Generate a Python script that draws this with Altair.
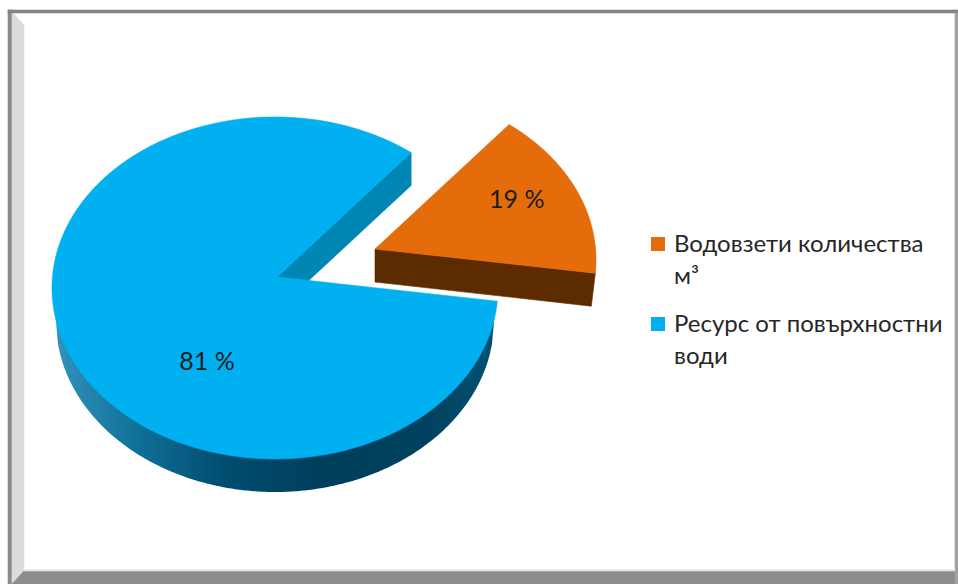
import numpy as np
import pandas as pd
import altair as alt

# Chart values
names = ["Водовзети количества\nм³", "Ресурс от повърхностни\nводи"]
shares = [19, 81]
colors = ["#e46c0a", "#00b0f0"]
labels = ["19 %", "81 %"]

W, H = 958, 584
FONT = "Lato"

# Pie geometry, in pixels
CX, CY = 275, 288          # centre of the top ellipse
RX, RY = 223, 171          # radii of the top ellipse
BRX, BRY = 219, 171        # radii of the lower rim
DEPTH = 33                 # thickness of the disc
APEX = (277, 277)          # where the cut edges meet on the top face
SQUASH = 0.69              # foreshortening of angles on the tilted disc
START = 62.0               # angle where the first slice begins, degrees
EXPLODE = (98, -28)        # pull-out of the first slice
LABEL_POS = [(0.645, -0.35), (-0.305, 0.433)]  # label centres in disc radii


def tilt(theta):
    th = np.radians(theta)
    return np.arctan2(SQUASH * np.sin(th), np.cos(th))


def rim(theta, rx=RX, ry=RY, dy=0):
    t = tilt(theta)
    return CX + rx * np.cos(t), CY + dy - ry * np.sin(t)


x_scale = alt.Scale(domain=[0, W], range=[0, W], nice=False, zero=False)
y_scale = alt.Scale(domain=[0, H], range=[0, H], nice=False, zero=False)
X = alt.X("x:Q", scale=x_scale, axis=None)
Y = alt.Y("y:Q", scale=y_scale, axis=None)


def polygon(xs, ys, fill):
    xs, ys = list(xs), list(ys)
    df = pd.DataFrame({"x": xs + xs[:1], "y": ys + ys[:1]})
    df["i"] = range(len(df))
    return alt.Chart(df).mark_line(fill=fill, stroke=fill, strokeWidth=0.6, interpolate="linear").encode(
        x=X, y=Y, order=alt.Order("i:Q")
    )


# Frame of the picture
frame = [
    polygon([8, 12, 12, 8], [10, 10, 584, 584], "#8a8a8a"),
    polygon([12, 24, 24, 12], [12, 25, 571, 584], "#dcdcdc"),
    polygon([8, 958, 958, 8], [10, 10, 13, 13], "#858585"),
    polygon([12, 24, 955, 958, 958], [584, 571, 571, 571, 584], "#8c8c8c"),
    polygon([955, 958, 958, 955], [13, 13, 584, 584], "#a2a2a2"),
    polygon([24, 955, 955, 24], [569.5, 569.5, 571, 571], "#e6e6e6"),
]

# Slice angle spans, clockwise from START
spans = np.array(shares) * 3.6
a0 = START
a1 = a0 - spans[0]
a2 = a1 - spans[1]

# Large slice: outer wall across the front of the disc
wall_x = np.linspace(CX - BRX, CX + BRX, 221)
top_y = CY + RY * np.sqrt(np.clip(1 - ((wall_x - CX) / RX) ** 2, 0, 1))
low_y = CY + DEPTH + BRY * np.sqrt(np.clip(1 - ((wall_x - CX) / BRX) ** 2, 0, 1))
wall_df = pd.DataFrame({"x": wall_x, "y": top_y - 1, "y2": np.maximum(top_y, low_y)})
wall_fill = alt.Gradient(
    gradient="linear", x1=0, x2=1, y1=0, y2=0,
    stops=[
        alt.GradientStop(color="#2f93bb", offset=0),
        alt.GradientStop(color="#0f6d95", offset=0.2),
        alt.GradientStop(color="#004d70", offset=0.38),
        alt.GradientStop(color="#003f5c", offset=0.6),
        alt.GradientStop(color="#00425f", offset=0.85),
        alt.GradientStop(color="#005273", offset=1),
    ],
)
blue_wall = alt.Chart(wall_df).mark_area(color=wall_fill, interpolate="linear").encode(
    x=X, y=Y, y2="y2:Q"
)

# Large slice: cut wall seen through the gap
sx, sy = rim(a2)
blue_cut = polygon(
    [APEX[0], sx, sx, APEX[0]], [APEX[1], sy, sy + DEPTH, APEX[1] + DEPTH], "#0086b4"
)

# Large slice: top face
th_blue = np.linspace(a1, a2, 240)
bx, by = rim(th_blue)
blue_top = polygon(np.r_[APEX[0], bx], np.r_[APEX[1], by], colors[1])

# Pulled-out slice: front wall and top face
ox, oy = EXPLODE
ex, ey = rim(a1)
lx, ly = rim(a1, BRX, BRY, DEPTH)
orange_wall = polygon(
    [APEX[0] + ox, ex + ox, lx + ox, APEX[0] + ox],
    [APEX[1] + oy, ey + oy, ly + oy, APEX[1] + oy + DEPTH],
    "#5c2c00",
)
th_orange = np.linspace(a0, a1, 60)
tx, ty = rim(th_orange)
orange_top = polygon(
    np.r_[APEX[0] + ox, tx + ox], np.r_[APEX[1] + oy, ty + oy], colors[0]
)

# Percentage labels
label_df = pd.DataFrame({
    "x": [CX + ox + RX * LABEL_POS[0][0], CX + RX * LABEL_POS[1][0]],
    "y": [CY + oy + RY * LABEL_POS[0][1], CY + RY * LABEL_POS[1][1]],
    "t": labels,
})
value_text = alt.Chart(label_df).mark_text(
    font=FONT, fontSize=25, color="#1c1c1c", align="center", baseline="middle"
).encode(x=X, y=Y, text="t:N")

# Legend, drawn as squares and wrapped text
legend_rows = [244, 324]
legend_df = pd.DataFrame({"name": names, "color": colors, "row": legend_rows})
legend_marks = alt.Chart(legend_df).transform_calculate(x="658", y="datum.row").mark_square(
    size=196, opacity=1
).encode(x=X, y=Y, color=alt.Color("color:N", scale=None))
legend_text = alt.Chart(legend_df).transform_calculate(x="674", y="datum.row + 8").mark_text(
    font=FONT, fontSize=24, color="#262626", align="left", baseline="alphabetic",
    lineBreak="\n", lineHeight=32,
).encode(x=X, y=Y, text="name:N")

chart = alt.layer(
    *frame, blue_wall, blue_cut, blue_top, orange_wall, orange_top,
    value_text, legend_marks, legend_text,
).properties(
    width=W, height=H, padding=0, autosize=alt.AutoSizeParams(type="none"), background="white"
).configure_view(stroke=None)

chart.save("out.html", embed_options={"renderer": "svg", "actions": False})
